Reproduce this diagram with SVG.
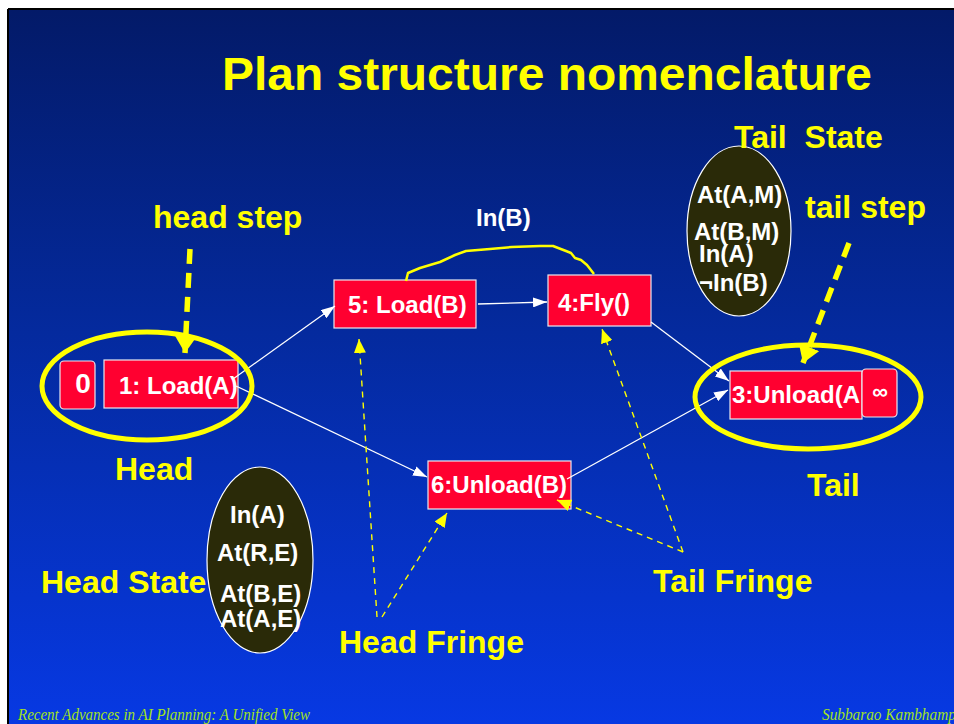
<svg xmlns="http://www.w3.org/2000/svg" width="954" height="724" viewBox="0 0 954 724">
<defs>
<linearGradient id="bg" x1="0" y1="0" x2="0" y2="1">
<stop offset="0" stop-color="#031a68"/>
<stop offset="0.45" stop-color="#042a9e"/>
<stop offset="1" stop-color="#0739e4"/>
</linearGradient>
<marker id="wa" markerUnits="userSpaceOnUse" markerWidth="14" markerHeight="10" refX="14" refY="5" orient="auto"><path d="M0,0 L14,5 L0,10 z" fill="#ffffff"/></marker>
<marker id="ya" markerUnits="userSpaceOnUse" markerWidth="14" markerHeight="12" refX="14" refY="6" orient="auto"><path d="M0,0 L14,6 L0,12 z" fill="#ffff00"/></marker>
<marker id="yb" markerUnits="userSpaceOnUse" markerWidth="18" markerHeight="22" refX="17" refY="11" orient="auto"><path d="M0,0 L17,11 L0,22 z" fill="#ffff00"/></marker>
</defs>
<style>
.box{fill:#ff0030;stroke:#e8e8f0;stroke-width:1.2}
.bt{font-family:"Liberation Sans",Arial,sans-serif;font-weight:bold;font-size:24px;fill:#ffffff}
.lab{font-family:"Liberation Sans",Arial,sans-serif;font-weight:bold;font-size:32px;fill:#ffff00}
.st{fill:#2a2a08;stroke:#ffffff;stroke-width:1.2}
.ring{fill:none;stroke:#ffff00;stroke-width:5}
.edge{stroke:#ffffff;stroke-width:1.3;fill:none;marker-end:url(#wa)}
.fr{stroke:#ffff00;stroke-width:1.4;fill:none;stroke-dasharray:6 5;marker-end:url(#ya)}
.step{stroke:#ffff00;stroke-width:5.5;fill:none;stroke-dasharray:15 9;marker-end:url(#yb)}
.foot{font-family:"Liberation Serif","Times New Roman",serif;font-style:italic;font-size:17px;fill:#a2e21c}
</style>
<rect x="0" y="0" width="954" height="724" fill="#ffffff"/>
<rect x="8" y="9" width="950" height="720" fill="url(#bg)"/>
<line x1="8" y1="9" x2="954" y2="9" stroke="#000000" stroke-width="2"/>
<line x1="8" y1="9" x2="8" y2="724" stroke="#000000" stroke-width="2"/>

<text x="222" y="90" font-family="Liberation Sans,Arial,sans-serif" font-weight="bold" font-size="47" fill="#ffff00" textLength="650" lengthAdjust="spacingAndGlyphs">Plan structure nomenclature</text>

<g id="tail-state">
<ellipse class="st" cx="739" cy="231" rx="52" ry="85"/>
<text class="bt" x="697" y="203">At(A,M)</text>
<text class="bt" x="694" y="240">At(B,M)</text>
<text class="bt" x="699" y="262">In(A)</text>
<text class="bt" x="699" y="291">¬In(B)</text>
</g>
<g id="head-state">
<ellipse class="st" cx="260" cy="560" rx="53" ry="93"/>
<text class="bt" x="230" y="523">In(A)</text>
<text class="bt" x="217" y="561">At(R,E)</text>
<text class="bt" x="220" y="602">At(B,E)</text>
<text class="bt" x="220" y="627">At(A,E)</text>
</g>

<g id="n0">
<rect class="box" x="60" y="361" width="35" height="48" rx="4"/>
<text class="bt" x="83" y="393" text-anchor="middle" style="font-size:28px">0</text>
</g>
<g id="n1">
<rect class="box" x="104" y="360" width="134" height="48"/>
<text class="bt" x="119" y="394">1: Load(A)</text>
</g>
<g id="n5">
<rect class="box" x="334" y="280" width="142" height="48"/>
<text class="bt" x="348" y="313">5: Load(B)</text>
</g>
<g id="n4">
<rect class="box" x="548" y="275" width="103" height="51"/>
<text class="bt" x="558" y="311">4:Fly()</text>
</g>
<g id="n6">
<rect class="box" x="428" y="461" width="143" height="48"/>
<text class="bt" x="431" y="493">6:Unload(B)</text>
</g>
<g id="n3">
<rect class="box" x="730" y="371" width="132" height="48"/>
<text class="bt" x="732" y="403">3:Unload(A</text>
</g>
<g id="ninf">
<rect class="box" x="862" y="369" width="35" height="48" rx="4"/>
<text class="bt" x="880" y="399" text-anchor="middle" style="font-size:22px">∞</text>
</g>

<g id="connectors">
<line class="edge" x1="233" y1="379" x2="335" y2="306"/>
<line class="edge" x1="236" y1="386" x2="427" y2="477"/>
<line class="edge" x1="478" y1="304" x2="547" y2="302"/>
<line class="edge" x1="651" y1="322" x2="729" y2="381"/>
<line class="edge" x1="567" y1="479" x2="728" y2="390"/>
<path d="M406,281 L408,273 L420,268 L440,262 L455,255 L466,251 L490,249 L512,247 L540,246 L553,246 L566,251 L571,253 L575,258 L581,260 L587,265 L594,274" fill="none" stroke="#ffff00" stroke-width="2.5" stroke-linejoin="round"/>
<line class="fr" x1="377" y1="617" x2="359" y2="339"/>
<line class="fr" x1="382" y1="617" x2="447" y2="513"/>
<line class="fr" x1="683" y1="552" x2="602" y2="329"/>
<line class="fr" x1="683" y1="552" x2="557" y2="500"/>
<line class="step" x1="190" y1="249" x2="185" y2="353"/>
<line class="step" x1="849" y1="243" x2="803" y2="363"/>
</g>

<g id="head-ring"><ellipse class="ring" cx="147" cy="386" rx="105" ry="54"/></g>
<g id="tail-ring"><ellipse class="ring" cx="808" cy="397" rx="113" ry="52"/></g>

<text class="bt" x="476" y="226">In(B)</text>
<text class="lab" x="734" y="148" xml:space="preserve">Tail  State</text>
<text class="lab" x="153" y="228">head step</text>
<text class="lab" x="805" y="218">tail step</text>
<text class="lab" x="115" y="480">Head</text>
<text class="lab" x="807" y="496">Tail</text>
<text class="lab" x="41" y="593">Head State</text>
<text class="lab" x="339" y="653">Head Fringe</text>
<text class="lab" x="653" y="592">Tail Fringe</text>

<text class="foot" x="18" y="720" textLength="292" lengthAdjust="spacingAndGlyphs">Recent Advances in AI Planning: A Unified View</text>
<text class="foot" x="822" y="720" textLength="150" lengthAdjust="spacingAndGlyphs">Subbarao Kambhampati</text>
</svg>
